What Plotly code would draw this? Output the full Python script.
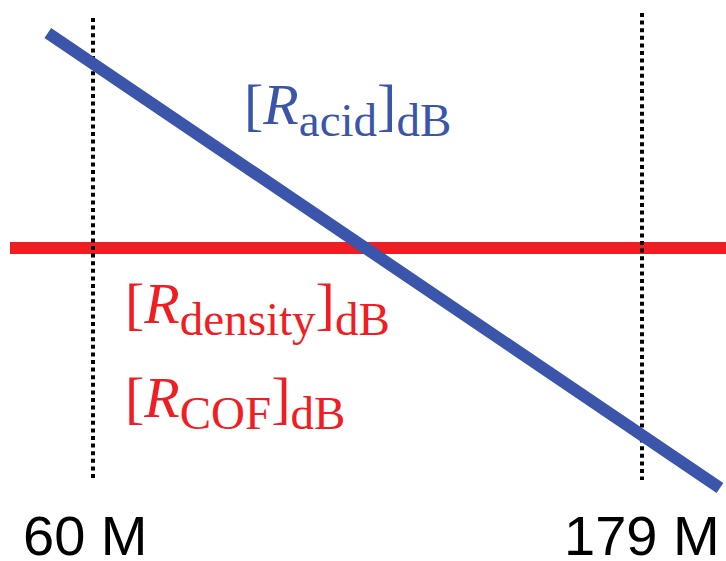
import plotly.graph_objects as go

# x in millions (M), y in relative dB units
mark_vals = [60, 179]
mark_labels = ["60 M", "179 M"]

acid_x = [50.2, 195.9]
acid_y = [21.5, -24.0]

flat_x = [42.0, 197.5]
flat_y = [0.0, 0.0]

guide_top = [23.0, 23.5]
guide_bottom = [-23.2, -23.2]

BLUE = "#3A55AA"
RED = "#F01E23"

fig = go.Figure()

fig.add_trace(go.Scatter(x=flat_x, y=flat_y, mode="lines",
                         line=dict(color=RED, width=12), hoverinfo="skip"))
for xv, yt, yb in zip(mark_vals, guide_top, guide_bottom):
    fig.add_trace(go.Scatter(x=[xv, xv], y=[yt, yb], mode="lines",
                             line=dict(color="black", width=4, dash="4px,3.6px"),
                             hoverinfo="skip"))
fig.add_trace(go.Scatter(x=acid_x, y=acid_y, mode="lines",
                         line=dict(color=BLUE, width=12), hoverinfo="skip"))

serif = "Liberation Serif"


def label(sub):
    s = "<span style='font-size:47px'>%s</span>"
    return "[<i>R</i><sub>" + s % sub + "</sub>]<sub>" + s % "dB" + "</sub>"


fig.add_annotation(x=92.3, y=13.9, xref="x", yref="y", xanchor="left", yanchor="middle",
                   text=label("acid"), showarrow=False,
                   font=dict(family=serif, size=58, color=BLUE))
fig.add_annotation(x=66.6, y=-6.0, xref="x", yref="y", xanchor="left", yanchor="middle",
                   text=label("density"), showarrow=False,
                   font=dict(family=serif, size=58, color=RED))
fig.add_annotation(x=66.6, y=-15.4, xref="x", yref="y", xanchor="left", yanchor="middle",
                   text=label("COF"), showarrow=False,
                   font=dict(family=serif, size=58, color=RED))

shifts = [-8, 0]
for xv, lab, sh in zip(mark_vals, mark_labels, shifts):
    fig.add_annotation(x=xv, y=0, xref="x", yref="paper", xanchor="center", yanchor="bottom",
                       text=lab, showarrow=False, xshift=sh, yshift=-8,
                       font=dict(family="Liberation Sans", size=56, color="black"))

fig.update_layout(
    width=726, height=561,
    margin=dict(l=0, r=0, t=0, b=0),
    paper_bgcolor="white", plot_bgcolor="white",
    showlegend=False,
    xaxis=dict(range=[39.84, 197.21], visible=False, fixedrange=True),
    yaxis=dict(range=[-31.3, 24.8], visible=False, fixedrange=True),
)

fig.write_html("out.html", config={"displayModeBar": False})
